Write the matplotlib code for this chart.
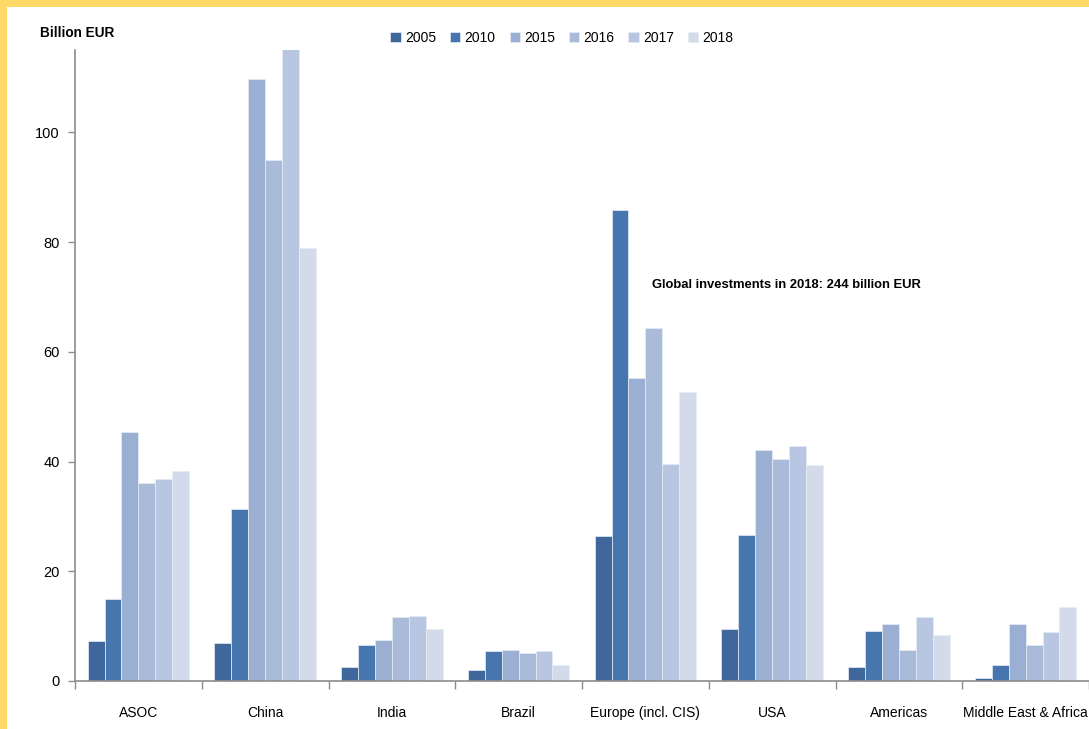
import numpy as np
import matplotlib.pyplot as plt
from matplotlib.patches import Rectangle

plt.rcParams['font.family'] = ['Liberation Sans Narrow', 'Liberation Sans', 'DejaVu Sans']

regions = ["ASOC", "China", "India", "Brazil", "Europe (incl. CIS)", "USA",
           "Americas", "Middle East & Africa"]
years = ["2005", "2010", "2015", "2016", "2017", "2018"]

v2005 = [7.2, 6.9, 2.5, 2.0, 26.4, 9.5, 2.5, 0.5]
v2010 = [14.9, 31.3, 6.6, 5.5, 85.8, 26.6, 9.2, 3.0]
v2015 = [45.4, 109.7, 7.5, 5.6, 55.2, 42.1, 10.3, 10.3]
v2016 = [36.0, 94.9, 11.7, 5.1, 64.3, 40.4, 5.6, 6.6]
v2017 = [36.8, 116.0, 11.8, 5.5, 39.5, 42.8, 11.6, 8.9]
v2018 = [38.3, 78.9, 9.5, 2.9, 52.6, 39.3, 8.4, 13.4]

series = [v2005, v2010, v2015, v2016, v2017, v2018]
colors = ["#3F679B", "#4775AE", "#9AAFD2", "#AABAD9", "#B8C6E1", "#D3DBEA"]

fig = plt.figure(figsize=(10.89, 7.29), dpi=100)
fig.patch.set_facecolor("white")
# yellow frame on top and left
fig.patches.append(Rectangle((0, 1 - 7 / 729), 1, 7 / 729, transform=fig.transFigure,
                             facecolor="#FFD966", edgecolor="none", zorder=0))
fig.patches.append(Rectangle((0, 0), 7 / 1089, 1, transform=fig.transFigure,
                             facecolor="#FFD966", edgecolor="none", zorder=0))

ax = fig.add_axes([75 / 1089, 1 - 681 / 729, 1014 / 1089, (681 - 50) / 729])

x = np.arange(len(regions))
w = 0.8 / len(series)
for i, (vals, c, yr) in enumerate(zip(series, colors, years)):
    ax.bar(x - 0.4 + w * (i + 0.5), vals, width=w, color=c, label=yr,
           edgecolor="#E6ECF5", linewidth=0.5, zorder=2)

ax.set_xlim(-0.5, len(regions) - 0.5)
ax.set_ylim(0, 115)
ax.set_yticks([0, 20, 40, 60, 80, 100])
ax.set_xticks(x)
ax.set_xticklabels(regions)
ax.set_xticks(np.arange(-0.5, len(regions), 1), minor=True)
ax.tick_params(axis="x", which="major", length=0, pad=18, labelsize=10)
ax.tick_params(axis="x", which="minor", length=6, color="#8C8C8C", width=1)
ax.tick_params(axis="y", length=5, color="#8C8C8C", width=1, labelsize=10.5, pad=6)

for s in ["top", "right"]:
    ax.spines[s].set_visible(False)
for s in ["left", "bottom"]:
    ax.spines[s].set_color("#8C8C8C")
    ax.spines[s].set_linewidth(1.2)

fig.text(40 / 1089, 1 - 33 / 729, "Billion EUR", fontsize=9.8, fontweight="bold",
         va="center", ha="left")

ax.text(4.05, 72.1, "Global investments in 2018: 244 billion EUR", fontsize=9.4,
        fontweight="bold", va="center", ha="left")

fig.legend(loc="center", bbox_to_anchor=(562 / 1089, 1 - 38 / 729), ncol=6,
           frameon=False, fontsize=10, handlelength=0.75, handleheight=0.75,
           handletextpad=0.3, columnspacing=1.0)

fig.savefig("out.png", dpi=100)
